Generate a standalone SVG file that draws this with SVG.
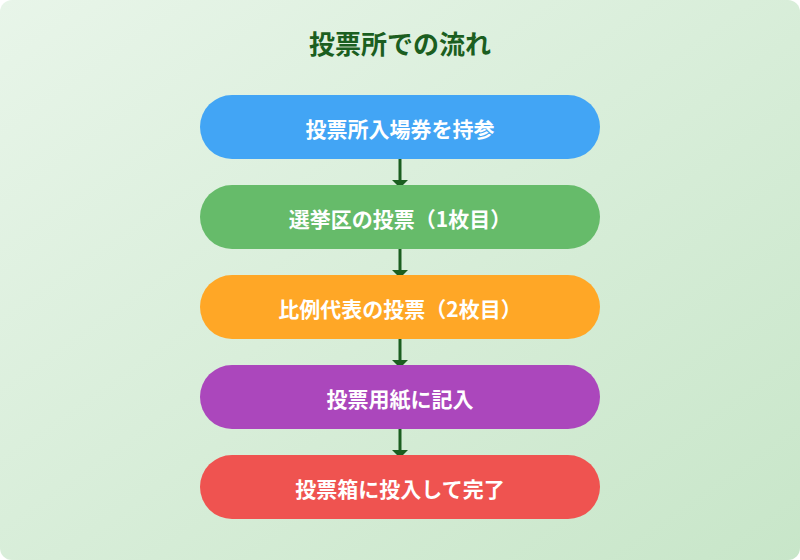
<svg xmlns="http://www.w3.org/2000/svg" width="800" height="560" viewBox="0 0 800 560">
<defs>
<linearGradient id="bg" x1="0" y1="0" x2="1" y2="1">
<stop offset="0" stop-color="#e8f5e9"/>
<stop offset="1" stop-color="#c8e6c9"/>
</linearGradient>
<style>
.node text{font-family:"Noto Sans CJK JP","Noto Sans CJK SC",sans-serif;font-weight:700;font-size:21px;fill:#ffffff;text-anchor:middle;dominant-baseline:central}
.title{font-family:"Noto Sans CJK JP","Noto Sans CJK SC",sans-serif;font-weight:700;font-size:26px;fill:#1b5e20;text-anchor:middle}
.conn line{stroke:#1b5e20;stroke-width:3}
.conn polygon{fill:#1b5e20}
</style>
</defs>
<rect x="0" y="0" width="800" height="560" rx="12" fill="url(#bg)"/>
<text class="title" x="400" y="54">投票所での流れ</text>
<g id="connectors" class="conn">
<line x1="400" y1="159" x2="400" y2="181"/><polygon points="392,180 408,180 400,188"/>
<line x1="400" y1="249" x2="400" y2="271"/><polygon points="392,270 408,270 400,278"/>
<line x1="400" y1="339" x2="400" y2="361"/><polygon points="392,360 408,360 400,368"/>
<line x1="400" y1="429" x2="400" y2="451"/><polygon points="392,450 408,450 400,458"/>
</g>
<g id="n1" class="node"><rect x="200" y="95" width="400" height="64" rx="32" fill="#42a5f5"/><text x="400" y="128">投票所入場券を持参</text></g>
<g id="n2" class="node"><rect x="200" y="185" width="400" height="64" rx="32" fill="#66bb6a"/><text x="400" y="218">選挙区の投票（1枚目）</text></g>
<g id="n3" class="node"><rect x="200" y="275" width="400" height="64" rx="32" fill="#ffa726"/><text x="400" y="308">比例代表の投票（2枚目）</text></g>
<g id="n4" class="node"><rect x="200" y="365" width="400" height="64" rx="32" fill="#ab47bc"/><text x="400" y="398">投票用紙に記入</text></g>
<g id="n5" class="node"><rect x="200" y="455" width="400" height="64" rx="32" fill="#ef5350"/><text x="400" y="488">投票箱に投入して完了</text></g>
</svg>
